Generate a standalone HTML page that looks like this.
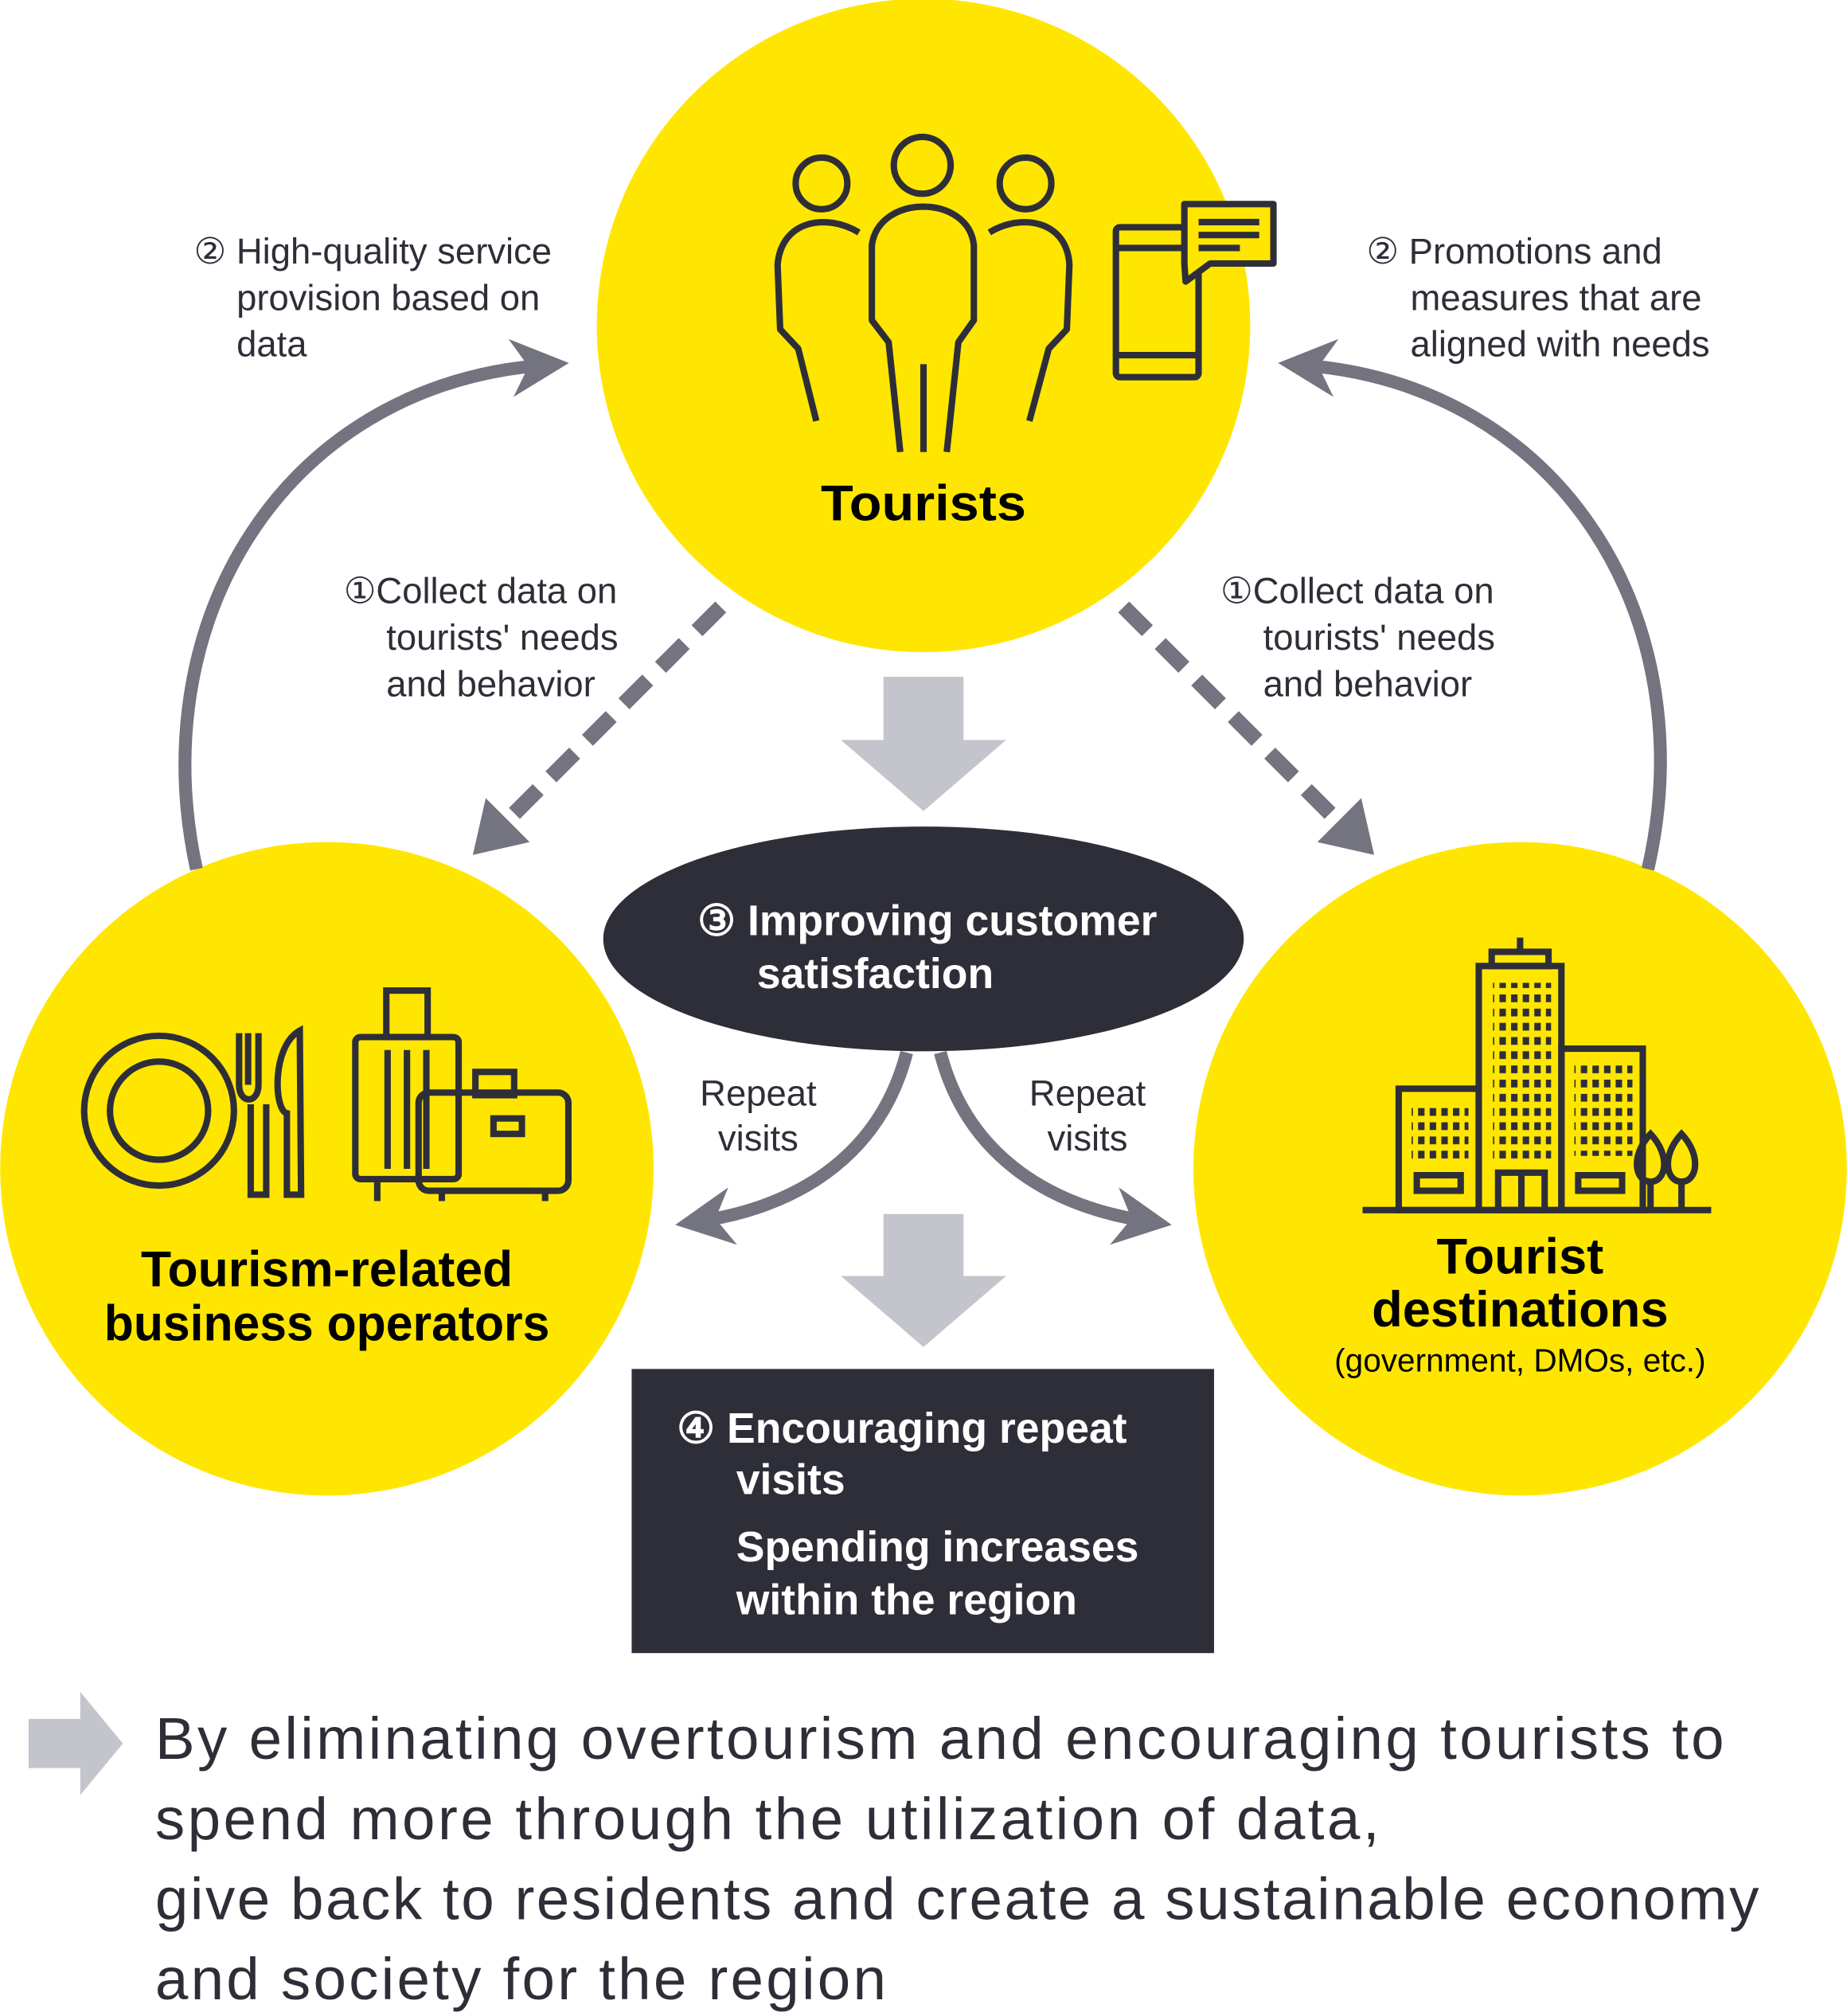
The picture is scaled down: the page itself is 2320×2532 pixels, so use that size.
<!DOCTYPE html>
<html><head><meta charset="utf-8"><style>
html,body{margin:0;padding:0;background:#fff}
svg{display:block}
text{font-family:"Liberation Sans",sans-serif}
</style></head><body>
<svg width="2320" height="2532" viewBox="0 0 1430 1561" xmlns="http://www.w3.org/2000/svg">
<defs>
<marker id="ah" viewBox="0 0 10 10" refX="5" refY="5" markerWidth="4.5" markerHeight="4.5" orient="auto" markerUnits="strokeWidth"><path d="M0,0 L10,5 L0,10 L3,5 z" fill="#747480"/></marker>
</defs>
<circle cx="715" cy="252" r="253" fill="#FFE600"/>
<circle cx="253" cy="905" r="253" fill="#FFE600"/>
<circle cx="1177" cy="905" r="253" fill="#FFE600"/>

<path d="M152,673 C110,480 220,300 418,283" fill="none" stroke="#747480" stroke-width="10" marker-end="url(#ah)"/>
<path d="M1276,673 C1320,480 1210,300 1012,283" fill="none" stroke="#747480" stroke-width="10" marker-end="url(#ah)"/>

<path d="M558,470 L395,633" fill="none" stroke="#747480" stroke-width="12" stroke-dasharray="26,14"/>
<polygon points="366,662 376,618 410,652" fill="#747480"/>
<path d="M870,470 L1033,633" fill="none" stroke="#747480" stroke-width="12" stroke-dasharray="26,14"/>
<polygon points="1064,662 1054,618 1020,652" fill="#747480"/>

<polygon points="684,524 746,524 746,573 779,573 715,628 651,573 684,573" fill="#c4c4cd"/>
<polygon points="684,940 746,940 746,988 779,988 715,1043 651,988 684,988" fill="#c4c4cd"/>

<path d="M702,815 C680,900 610,935 545,945" fill="none" stroke="#747480" stroke-width="10" marker-end="url(#ah)"/>
<path d="M728,815 C750,900 820,935 885,945" fill="none" stroke="#747480" stroke-width="10" marker-end="url(#ah)"/>

<ellipse cx="715" cy="727" rx="248" ry="87" fill="#2e2e38"/>
<text x="540" y="724" font-size="33" fill="#fff" font-weight="bold">③ Improving customer</text>
<text x="586" y="765" font-size="33" fill="#fff" font-weight="bold">satisfaction</text>

<rect x="489" y="1060" width="451" height="220" fill="#2e2e38"/>
<text x="524" y="1117" font-size="33" fill="#fff" font-weight="bold">④ Encouraging repeat</text>
<text x="570" y="1157" font-size="33" fill="#fff" font-weight="bold">visits</text>
<text x="570" y="1209" font-size="33" fill="#fff" font-weight="bold">Spending increases</text>
<text x="570" y="1250" font-size="33" fill="#fff" font-weight="bold">within the region</text>

<g font-size="28" fill="#2e2e38">
<text x="150" y="204">② High-quality service</text>
<text x="183" y="240">provision based on</text>
<text x="183" y="276">data</text>
<text x="1058" y="204">② Promotions and</text>
<text x="1092" y="240">measures that are</text>
<text x="1092" y="276">aligned with needs</text>
<text x="266" y="467">①Collect data on</text>
<text x="299" y="503">tourists' needs</text>
<text x="299" y="539">and behavior</text>
<text x="945" y="467">①Collect data on</text>
<text x="978" y="503">tourists' needs</text>
<text x="978" y="539">and behavior</text>
<text x="587" y="856" text-anchor="middle">Repeat</text>
<text x="587" y="891" text-anchor="middle">visits</text>
<text x="842" y="856" text-anchor="middle">Repeat</text>
<text x="842" y="891" text-anchor="middle">visits</text>
</g>

<g font-weight="bold" fill="#000" font-size="39" text-anchor="middle">
<text x="715" y="403" textLength="159" lengthAdjust="spacingAndGlyphs">Tourists</text>
<text x="253" y="996" textLength="288" lengthAdjust="spacingAndGlyphs">Tourism-related</text>
<text x="253" y="1038" textLength="345" lengthAdjust="spacingAndGlyphs">business operators</text>
<text x="1177" y="986">Tourist</text>
<text x="1177" y="1027">destinations</text>
</g>
<text x="1177" y="1062" font-size="25" text-anchor="middle" fill="#000">(government, DMOs, etc.)</text>

<g fill="none" stroke="#2e2e38" stroke-width="5" stroke-linejoin="round">
<circle cx="636" cy="142" r="20"/>
<circle cx="714" cy="128" r="22"/>
<circle cx="794" cy="142" r="20"/>
<path d="M665,180 C640,165 605,170 602,205 L604,255 L618,270 L632,326"/>
<path d="M766,180 C790,165 826,170 828,205 L826,255 L812,270 L797,326"/>
<path d="M697,350 L688,265 L675,248 L675,190 C680,150 750,150 754,190 L754,248 L742,265 L733,350"/>
<line x1="715" y1="282" x2="715" y2="350"/>
<rect x="864" y="176" width="64" height="116" rx="3"/>
<line x1="864" y1="192" x2="928" y2="192"/>
<line x1="864" y1="275" x2="928" y2="275"/>
<path d="M917,158 L986,158 L986,204 L937,204 L918,218 L917,204 z" fill="#FFE600"/>
<line x1="928" y1="172" x2="975" y2="172"/><line x1="928" y1="182" x2="975" y2="182"/><line x1="928" y1="192" x2="960" y2="192"/>
</g>

<g fill="none" stroke="#2e2e38" stroke-width="5">
<circle cx="123" cy="860" r="58"/>
<circle cx="123" cy="860" r="38"/>
<path d="M185,800 L185,840 C185,855 200,855 200,840 L200,800 M192,800 L192,840 M194,855 L194,925 L206,925 L206,855"/>
<path d="M232,798 C210,810 212,860 222,862 L222,925 L233,925 z"/>
<rect x="299" y="767" width="32" height="36"/>
<rect x="275" y="803" width="80" height="110" rx="4"/>
<line x1="300" y1="813" x2="300" y2="905"/><line x1="315" y1="813" x2="315" y2="905"/><line x1="330" y1="813" x2="330" y2="905"/>
<line x1="292" y1="913" x2="292" y2="930"/>
<rect x="368" y="830" width="30" height="18"/>
<rect x="324" y="846" width="116" height="76" rx="8"/>
<rect x="382" y="866" width="22" height="12"/>
<line x1="342" y1="922" x2="342" y2="930"/><line x1="422" y1="922" x2="422" y2="930"/>
</g>

<g fill="none" stroke="#2e2e38" stroke-width="5">
<line x1="1055" y1="937" x2="1325" y2="937"/>
<rect x="1083" y="843" width="62" height="94"/>
<rect x="1145" y="748" width="64" height="189"/>
<rect x="1155" y="737" width="44" height="11"/>
<line x1="1177" y1="726" x2="1177" y2="737"/>
<rect x="1209" y="812" width="63" height="125"/>
<rect x="1097" y="910" width="34" height="12"/>
<rect x="1222" y="910" width="34" height="12"/>
<rect x="1160" y="908" width="36" height="29"/>
<line x1="1178" y1="908" x2="1178" y2="937"/>
<path d="M1278,878 C1262,895 1266,915 1278,915 C1290,915 1294,895 1278,878 z M1278,915 L1278,937"/>
<path d="M1302,878 C1286,895 1290,915 1302,915 C1314,915 1318,895 1302,878 z M1302,915 L1302,937"/>
</g>
<g fill="#2e2e38">
<pattern id="w" width="9" height="11" patternUnits="userSpaceOnUse"><rect width="5" height="6"/></pattern>
<rect x="1093" y="856" width="44" height="45" fill="url(#w)"/>
<rect x="1156" y="761" width="45" height="138" fill="url(#w)"/>
<rect x="1219" y="825" width="45" height="70" fill="url(#w)"/>
</g>

<polygon points="22,1331 62,1331 62,1310 95,1350 62,1390 62,1369 22,1369" fill="#c4c4cd"/>
<g font-size="46" fill="#2e2e38">
<text x="120" y="1362" textLength="1215" lengthAdjust="spacing">By eliminating overtourism and encouraging tourists to</text>
<text x="120" y="1424" textLength="948" lengthAdjust="spacing">spend more through the utilization of data,</text>
<text x="120" y="1486" textLength="1242" lengthAdjust="spacing">give back to residents and create a sustainable economy</text>
<text x="120" y="1548" textLength="566" lengthAdjust="spacing">and society for the region</text>
</g>
</svg>
</body></html>
